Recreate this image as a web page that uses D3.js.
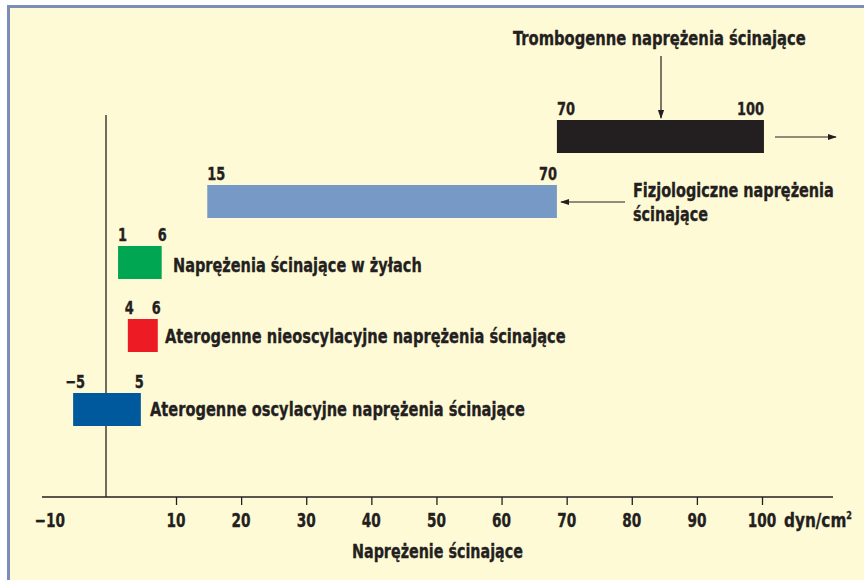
<!DOCTYPE html>
<html>
<head>
<meta charset="utf-8">
<script src="https://cdn.jsdelivr.net/npm/d3@7"></script>
<style>
  html, body { margin: 0; padding: 0; background: #fff; }
  svg text { font-family: "DejaVu Sans Condensed", "DejaVu Sans", sans-serif; font-weight: bold; fill: #231f20; stroke: #231f20; stroke-width: 0.35px; }
</style>
</head>
<body>
<svg width="864" height="580"></svg>
<script>
// ranges as labelled in the figure
var names = [
  "Trombogenne naprężenia ścinające",
  "Fizjologiczne naprężenia ścinające",
  "Naprężenia ścinające w żyłach",
  "Aterogenne nieoscylacyjne naprężenia ścinające",
  "Aterogenne oscylacyjne naprężenia ścinające"
];
var lowLabels = ["70", "15", "1", "4", "\u22125"];
var highLabels = ["100", "70", "6", "6", "5"];
// bar extents as drawn (dyn/cm2)
var barFrom = [68.5, 14.8, 1.1, 2.6, -5.8];
var barTo = [100.3, 68.5, 7.8, 7.2, 4.6];
var colors = ["#231f20", "#7799c6", "#00a651", "#ed1c24", "#00599c"];
var tickValues = [10, 20, 30, 40, 50, 60, 70, 80, 90, 100];

var svg = d3.select("svg");

// squeeze a text horizontally (condensed look), to width w or to 80%
function narrow(sel, w) {
  sel.each(function () {
    var t = d3.select(this);
    var len = this.getBBox().width;
    var sx = (w != null ? w : len * 0.8) / len;
    var tx = +t.attr("x"), ty = +t.attr("y");
    t.attr("x", 0).attr("y", 0)
      .attr("transform", "translate(" + tx + "," + ty + ") scale(" + sx + ",1)");
  });
  return sel;
}

// background + frame
svg.append("rect").attr("x", 7).attr("y", 5).attr("width", 857).attr("height", 575).attr("fill", "#7b8db8");
svg.append("rect").attr("x", 10).attr("y", 8).attr("width", 854).attr("height", 572).attr("fill", "#fffad6");

var x = d3.scaleLinear().domain([0, 100]).range([110.9, 762]);
var axisY = 497;
var barH = 33;
var barTop = [120, 185, 246, 319, 393];

// axis
var g = svg.append("g").attr("transform", "translate(0," + axisY + ")");
g.call(d3.axisBottom(x).tickValues(tickValues).tickSize(8).tickFormat(""));
g.select(".domain").remove();
g.selectAll(".tick line").attr("stroke", "#231f20").attr("stroke-width", 1.3);
g.append("line").attr("x1", 42).attr("x2", 833).attr("stroke", "#231f20").attr("stroke-width", 1.3);

var tl = svg.append("g");
tl.selectAll("text").data([-10].concat(tickValues)).enter().append("text")
  .attr("x", d => x(d) + (d < 0 ? 4 : 0))
  .attr("y", 527)
  .attr("text-anchor", "middle")
  .style("font-size", "19px")
  .text(d => d < 0 ? "\u221210" : d)
  .call(narrow);
var unit = tl.append("text")
  .attr("x", x(100) + 22).attr("y", 527)
  .style("font-size", "19px");
unit.append("tspan").text("dyn/cm");
unit.append("tspan").attr("dy", -8).style("font-size", "10px").text("2");
narrow(unit, 68);

narrow(svg.append("text").attr("x", 352).attr("y", 558)
  .style("font-size", "20px").text("Naprężenie ścinające"), 171);

// vertical zero line
svg.append("line").attr("x1", 106).attr("x2", 106).attr("y1", 115).attr("y2", axisY)
  .attr("stroke", "#231f20").attr("stroke-width", 1.3);

// bars
var idx = d3.range(names.length);
svg.append("g").selectAll("rect").data(idx).enter().append("rect")
  .attr("x", i => x(barFrom[i]))
  .attr("y", i => barTop[i])
  .attr("width", i => x(barTo[i]) - x(barFrom[i]))
  .attr("height", barH)
  .attr("fill", i => colors[i]);

svg.append("g").selectAll("text").data(idx).enter().append("text")
  .attr("x", i => x(barFrom[i]) + (i === 4 ? -8 : i === 3 ? -3 : 0))
  .attr("y", i => barTop[i] - 5)
  .style("font-size", "18px")
  .text(i => lowLabels[i])
  .call(narrow);
svg.append("g").selectAll("text").data(idx).enter().append("text")
  .attr("x", i => x(barTo[i]) + (i === 2 ? 5 : i === 3 ? 3 : i === 4 ? 3 : 0))
  .attr("y", i => barTop[i] - 5)
  .attr("text-anchor", "end")
  .style("font-size", "18px")
  .text(i => highLabels[i])
  .call(narrow);

// arrow marker
var defs = svg.append("defs");
defs.append("marker").attr("id", "ah").attr("viewBox", "0 0 10 10")
  .attr("refX", 9).attr("refY", 5).attr("markerWidth", 9).attr("markerHeight", 9)
  .attr("markerUnits", "userSpaceOnUse").attr("orient", "auto")
  .append("path").attr("d", "M0,1.5 L10,5 L0,8.5 Z").attr("fill", "#231f20");

function arrow(x1, y1, x2, y2) {
  svg.append("line").attr("x1", x1).attr("y1", y1).attr("x2", x2).attr("y2", y2)
    .attr("stroke", "#231f20").attr("stroke-width", 1.2).attr("marker-end", "url(#ah)");
}

// category labels
var fs = "20px";
function label(t, lx, ly, w) {
  return narrow(svg.append("text").attr("x", lx).attr("y", ly).style("font-size", fs).text(t), w);
}
label(names[0], 513, 45, 293);
arrow(661, 56, 661, 118);
arrow(775, 137, 836, 137);

var fz = names[1].split(" ");
label(fz[0] + " " + fz[1], 633, 197, 201);
label(fz[2], 633, 221, 75);
arrow(625, 202, 561, 202);

label(names[2], 173, 272, 249);
label(names[3], 165, 343, 401);
label(names[4], 150, 416, 375);
</script>
</body>
</html>
